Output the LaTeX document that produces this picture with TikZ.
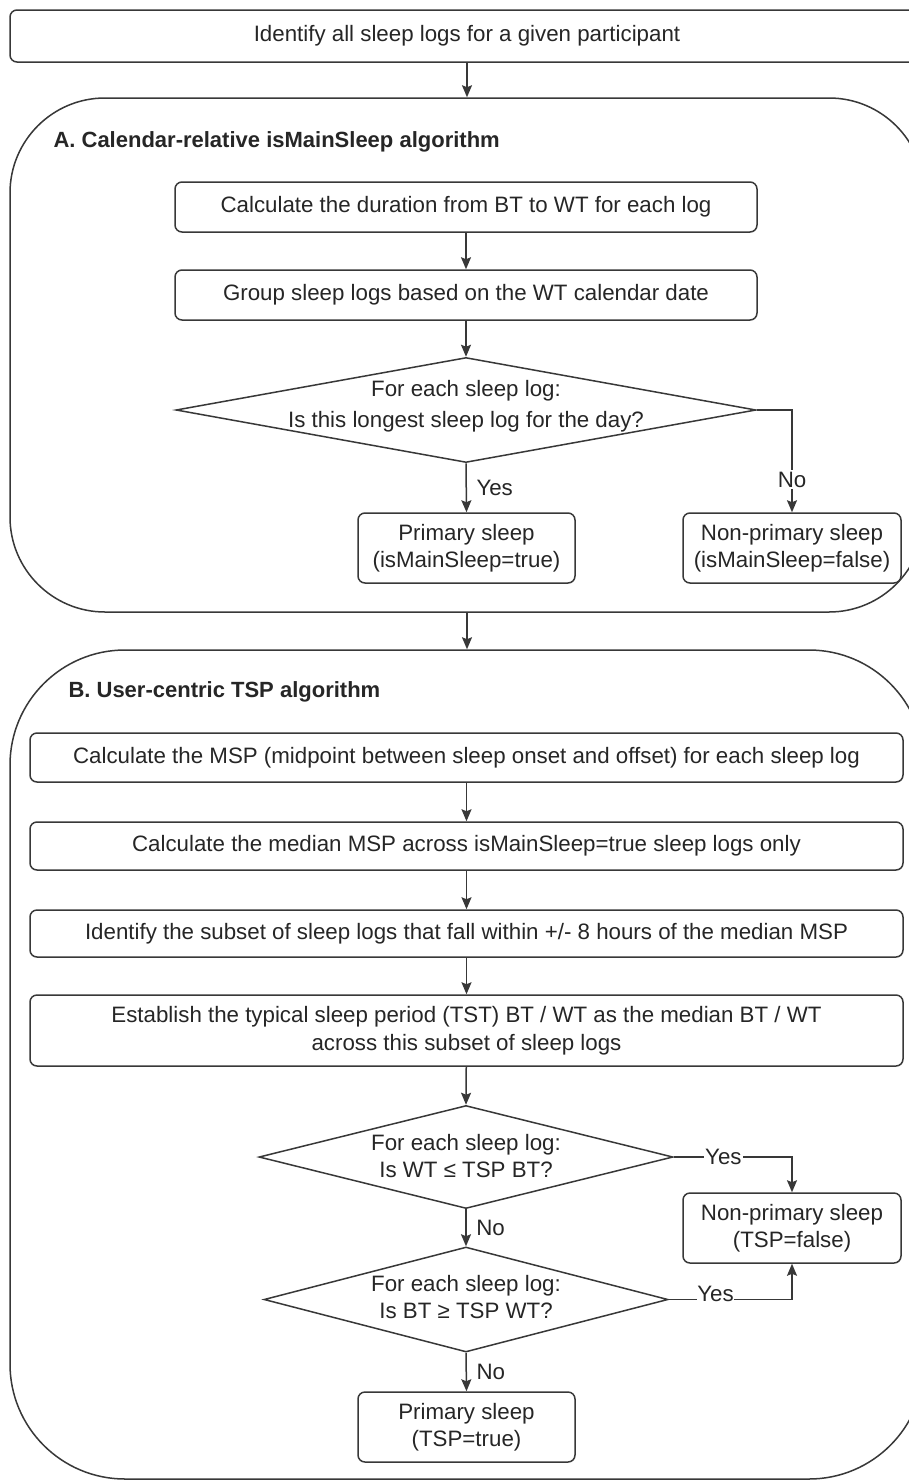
\documentclass[tikz,border=0pt]{standalone}
\usepackage{fontspec}
\setmainfont{Liberation Sans}
\usetikzlibrary{shapes.geometric,arrows.meta}
\definecolor{ln}{HTML}{383838}
\definecolor{tx}{HTML}{262626}
\begin{document}
\begin{tikzpicture}[x=1pt,y=-1pt,
  font=\fontsize{22.3}{27.5}\selectfont,
  box/.style={draw=ln, line width=1.5pt, rounded corners=7pt, text=tx, align=center, inner sep=0pt},
  panel/.style={draw=ln, line width=1.5pt, inner sep=0pt},
  dia/.style={diamond, draw=ln, line width=1.5pt, inner sep=0pt},
  arr/.style={draw=ln, line width=1.5pt, -{Stealth[length=12pt,width=10pt,inset=2pt]}},
  lbl/.style={text=tx, inner sep=1.5pt},
  ttl/.style={anchor=west, text=tx, font=\fontsize{22}{27}\selectfont\bfseries},
  dtext/.style={text=tx, align=center, inner sep=0pt}
]
\useasboundingbox (0,0) rectangle (909,1481);
\fill[white] (0,0) rectangle (909,1481);

% top
\node[box, minimum width=914pt, minimum height=52pt] (top) at (467,36) {Identify all sleep logs for a given participant};

% panel A
\node[panel, rounded corners=95pt, minimum width=914pt, minimum height=514pt] (pa) at (467,355) {};
\node[ttl] (ta) at (50,142) {A. Calendar-relative isMainSleep algorithm};
\node[box, minimum width=582pt, minimum height=50pt] (a1) at (466,207) {Calculate the duration from BT to WT for each log};
\node[box, minimum width=582pt, minimum height=50pt] (a2) at (466,295) {Group sleep logs based on the WT calendar date};
\node[dia, minimum width=580pt, minimum height=105pt] (d1) at (466,410) {};
\node[dtext, font=\fontsize{22.3}{31}\selectfont] (d1t) at (466,406) {For each sleep log:\\Is this longest sleep log for the day?};
\node[box, minimum width=217pt, minimum height=70pt] (pA) at (466.5,548) {Primary sleep\\(isMainSleep=true)};
\node[box, minimum width=218pt, minimum height=70pt] (npA) at (792,548) {Non-primary sleep\\(isMainSleep=false)};

\draw[arr] (top) -- (pa.north);
\draw[arr] (a1) -- (a2);
\draw[arr] (a2) -- (d1.north);
\draw[arr] (d1.south) -- (pA.north) node[lbl, midway, right=8pt] (yA) {Yes};
\draw[arr] (d1.east) -| (npA.north) node[lbl, pos=0.84, fill=white] (nA) {No};

% panel B
\node[panel, rounded corners=115pt, minimum width=914pt, minimum height=829pt] (pb) at (467,1064.5) {};
\node[ttl] (tb) at (65,692) {B. User-centric TSP algorithm};
\node[box, minimum width=873pt, minimum height=49pt] (b1) at (466.5,757.5) {Calculate the MSP (midpoint between sleep onset and offset) for each sleep log};
\node[box, minimum width=873pt, minimum height=48pt] (b2) at (466.5,846) {Calculate the median MSP across isMainSleep=true sleep logs only};
\node[box, minimum width=873pt, minimum height=47pt] (b3) at (466.5,933.5) {Identify the subset of sleep logs that fall within +/- 8 hours of the median MSP};
\node[box, minimum width=873pt, minimum height=71pt] (b4) at (466.5,1030.5) {Establish the typical sleep period (TST) BT / WT as the median BT / WT\\across this subset of sleep logs};
\node[dia, minimum width=414pt, minimum height=103pt] (d2) at (466,1157) {};
\node[dtext] (d2t) at (466,1156) {For each sleep log:\\Is WT ≤ TSP BT?};
\node[dia, minimum width=404pt, minimum height=105pt] (d3) at (466,1299.5) {};
\node[dtext] (d3t) at (466,1297) {For each sleep log:\\Is BT ≥ TSP WT?};
\node[box, minimum width=218pt, minimum height=70pt] (npB) at (792,1228) {Non-primary sleep\\(TSP=false)};
\node[box, minimum width=217pt, minimum height=70pt] (pB) at (466.5,1427) {Primary sleep\\(TSP=true)};

\draw[arr] (pa.south) -- (pb.north);
\draw[arr] (b1) -- (b2);
\draw[arr] (b2) -- (b3);
\draw[arr] (b3) -- (b4);
\draw[arr] (b4) -- (d2.north);
\draw[arr] (d2.south) -- (d3.north) node[lbl, midway, right=8pt] (nB1) {No};
\draw[arr] (d3.south) -- (pB.north) node[lbl, midway, right=8pt] (nB2) {No};
\draw[arr] (d2.east) -| (npB.north) node[lbl, pos=0.21, fill=white] (yB1) {Yes};
\draw[arr] (d3.east) -| (npB.south) node[lbl, pos=0.19, fill=white, anchor=south, inner sep=0pt, yshift=-3pt] (yB2) {Yes};
\end{tikzpicture}
\end{document}
